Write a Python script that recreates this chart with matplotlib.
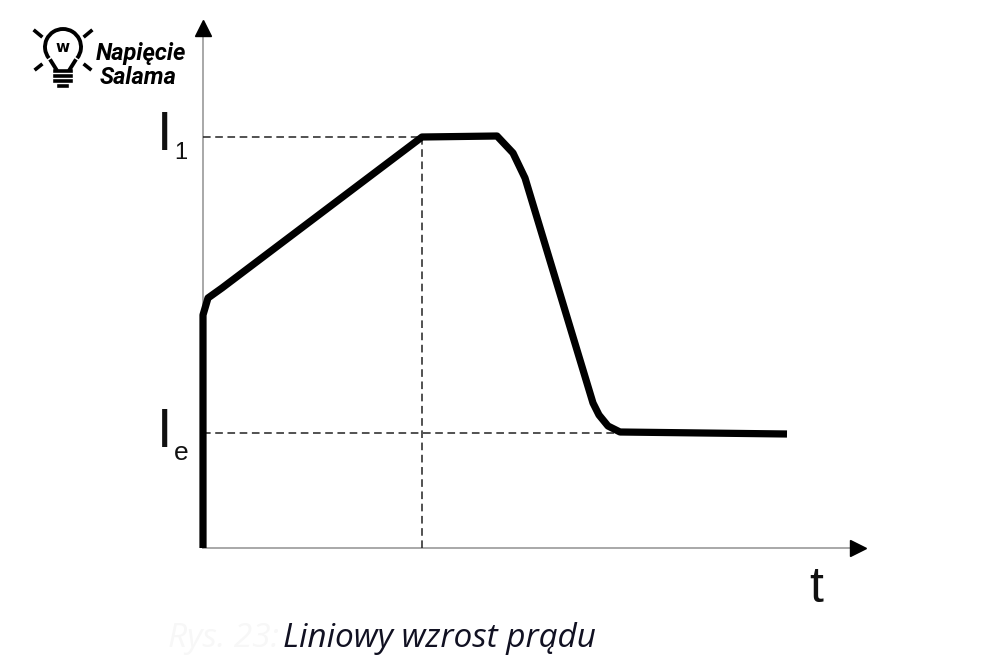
import matplotlib.pyplot as plt
from matplotlib.patches import Arc

# current waveform (arbitrary units): t along the horizontal axis, I vertical
t_curve = [0.00, 0.00, 0.05, 0.19, 2.19, 2.94, 3.10, 3.22, 3.90, 3.96, 4.05, 4.17, 5.84]
i_curve = [0.00, 2.33, 2.50, 2.60, 4.11, 4.12, 3.95, 3.70, 1.45, 1.33, 1.22, 1.16, 1.14]

I1 = 4.11
Ie = 1.15
t1 = 2.19
t_ie_end = 4.17

t_axis_end = 6.65
i_axis_end = 5.30

caption = "Liniowy wzrost prądu"
caption_prefix = "Rys. 23:"

fig = plt.figure(figsize=(10, 6.67), dpi=100)
ax = fig.add_axes([0, 0, 1, 1])
ax.set_xlim(-2.03, 7.97)
ax.set_ylim(-1.19, 5.48)
ax.axis('off')

# axes with arrow heads
ax.plot([0, 0], [0, i_axis_end - 0.05], color='#9a9a9a', lw=1.2, zorder=1)
ax.plot([0, t_axis_end - 0.05], [0, 0], color='#9a9a9a', lw=1.2, zorder=1)
ax.plot([0], [i_axis_end - 0.10], marker='^', color='black', markersize=11, zorder=3)
ax.plot([t_axis_end - 0.10], [0], marker='>', color='black', markersize=11, zorder=3)

# dashed guide lines
dash = (0, (5, 3))
ax.plot([0, t1], [I1, I1], color='#222222', lw=1.1, linestyle=dash, zorder=1)
ax.plot([t1, t1], [0, I1], color='#222222', lw=1.1, linestyle=dash, zorder=1)
ax.plot([0, t_ie_end], [Ie, Ie], color='#222222', lw=1.1, linestyle=dash, zorder=1)

# the curve
ax.plot(t_curve, i_curve, color='black', lw=5.2, solid_joinstyle='round',
        solid_capstyle='butt', zorder=2)

# labels
lab = dict(family=['Liberation Sans', 'DejaVu Sans'], color='#111111')
ax.text(-0.46, 3.98, 'I', fontsize=40, ha='left', va='baseline', **lab)
ax.text(-0.29, 3.89, '1', fontsize=17, ha='left', va='baseline', **lab)
ax.text(-0.46, 1.01, 'I', fontsize=40, ha='left', va='baseline', **lab)
ax.text(-0.29, 0.88, 'e', fontsize=19, ha='left', va='baseline', **lab)
ax.text(6.13, -0.54, 't', fontsize=36, ha='center', va='baseline', **lab)

# caption
cap = dict(fontsize=24, style='italic', family=['Open Sans', 'DejaVu Sans'], va='baseline')
ax.text(0.80, -0.99, caption, color='#111122', ha='left', **cap)
ax.text(0.76, -0.99, caption_prefix, color='#f7f7f7', ha='right', **cap)

# logo
tr = fig.transFigure
def fx(px):
    return px / 1000
def fy(py):
    return 1 - py / 667
fig.patches.append(Arc((fx(63), fy(47)), 36 / 1000, 36 / 667, theta1=-50, theta2=230,
                       transform=tr, color='black', lw=2.8))
fig.lines.append(plt.Line2D([fx(51), fx(56)], [fy(61), fy(69)], transform=tr, color='black', lw=2.8))
fig.lines.append(plt.Line2D([fx(75), fx(70)], [fy(61), fy(69)], transform=tr, color='black', lw=2.8))
for yy in (71, 76, 81):
    fig.lines.append(plt.Line2D([fx(55), fx(71)], [fy(yy), fy(yy)], transform=tr, color='black', lw=2.6))
fig.lines.append(plt.Line2D([fx(59), fx(67)], [fy(86), fy(86)], transform=tr, color='black', lw=2.6))
for (x0, y0, x1, y1) in [(35, 31, 41, 36), (91, 31, 85, 36), (36, 69, 41, 65), (90, 69, 85, 65)]:
    fig.lines.append(plt.Line2D([fx(x0), fx(x1)], [fy(y0), fy(y1)], transform=tr, color='black', lw=2.6))
fig.text(fx(63), fy(48), 'w', fontsize=11, weight='bold', ha='center', va='center',
         family=['DejaVu Sans'])
logo = dict(family=['Roboto', 'DejaVu Sans'], style='italic',
            weight='bold', color='black', ha='left', va='baseline')
fig.text(fx(96), fy(60), 'Napięcie', fontsize=17, **logo)
fig.text(fx(100), fy(84), 'Salama', fontsize=17, **logo)

fig.savefig('out.png', dpi=100, facecolor='white')
